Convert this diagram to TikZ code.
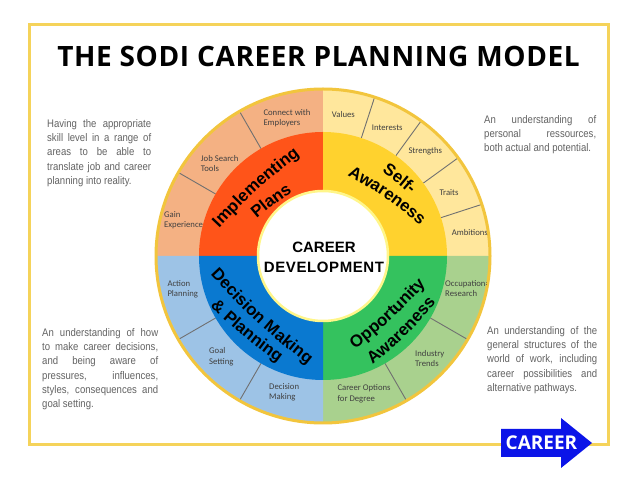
\documentclass[tikz,border=0pt]{standalone}
\usepackage{fontspec}
\setmainfont{Liberation Sans}
\newfontfamily\titlefont{Open Sans}
\newfontfamily\labfont{Carlito}
\newfontfamily\txtfont[FakeStretch=0.87]{Liberation Sans}
\usetikzlibrary{calc,decorations.text}
\definecolor{frameyellow}{HTML}{F5D35A}
\definecolor{ringborder}{HTML}{F2C53D}
\definecolor{peach}{HTML}{F4B183}
\definecolor{redorange}{HTML}{FF5419}
\definecolor{sunyellow}{HTML}{FFD22E}
\definecolor{paleyellow}{HTML}{FFE79C}
\definecolor{leafgreen}{HTML}{34C25E}
\definecolor{palegreen}{HTML}{A9D18E}
\definecolor{seablue}{HTML}{0A79D0}
\definecolor{paleblue}{HTML}{9DC3E6}
\definecolor{divgray}{HTML}{707070}
\definecolor{labgray}{HTML}{404040}
\definecolor{blurbgray}{HTML}{636363}
\definecolor{arrowblue}{HTML}{0B14E8}
\definecolor{innerborder}{HTML}{FFF68A}
\newcommand\wheelfont{\bfseries\fontsize{16.8}{20}\selectfont}
\tikzset{
  frame/.style={draw=frameyellow, line width=3pt},
  divider/.style={draw=divgray, line width=0.9pt},
  ringlabel/.style={font=\labfont\fontsize{8.7}{10.3}\selectfont, text=labgray, align=left, anchor=west, inner sep=0pt},
  blurb/.style={font=\txtfont\fontsize{11}{14.2}\selectfont, text=blurbgray, anchor=base west, inner sep=0pt},
  centre/.style={font=\bfseries\fontsize{15}{18}\selectfont, anchor=base, inner sep=0pt},
  wheeltext/.style={decorate, decoration={text along path, text align=center, text={|\wheelfont|#1}}},
}
\begin{document}
\begin{tikzpicture}[x=1pt,y=1pt]
\useasboundingbox (0,0) rectangle (638,479);
\fill[white] (0,0) rectangle (638,479);
\draw[frame] (29,34) rectangle (608,454);
\coordinate (C) at (323,223);
% outer ring
\fill[peach] (C) -- ++(90:167) arc[start angle=90,end angle=180,radius=167pt] -- cycle;
\fill[paleyellow] (C) -- ++(0:167) arc[start angle=0,end angle=90,radius=167pt] -- cycle;
\fill[palegreen] (C) -- ++(-90:167) arc[start angle=-90,end angle=0,radius=167pt] -- cycle;
\fill[paleblue] (C) -- ++(180:167) arc[start angle=180,end angle=270,radius=167pt] -- cycle;
\foreach \a in {120,150,72,54,36,18,-30,-60,210,240}
  \draw[divider] ($(C)+(\a:124)$) -- ($(C)+(\a:167)$);
% inner ring
\fill[redorange] (C) -- ++(90:124) arc[start angle=90,end angle=180,radius=124pt] -- cycle;
\fill[sunyellow] (C) -- ++(0:124) arc[start angle=0,end angle=90,radius=124pt] -- cycle;
\fill[leafgreen] (C) -- ++(-90:124) arc[start angle=-90,end angle=0,radius=124pt] -- cycle;
\fill[seablue] (C) -- ++(180:124) arc[start angle=180,end angle=270,radius=124pt] -- cycle;
\draw[ringborder, line width=3pt] (C) circle[radius=167pt];
\filldraw[fill=white, draw=innerborder, line width=2.5pt] (C) circle[radius=65pt];
% ring labels
\begin{scope}
\clip (C) circle[radius=165.5pt];
\node[ringlabel] (conn) at (263.3,360.8) {Connect with\\Employers};
\node[ringlabel] (job) at (200.7,315.7) {Job Search\\Tools};
\node[ringlabel] (gain) at (164,259) {Gain\\Experience};
\node[ringlabel] (val) at (331.7,364) {Values};
\node[ringlabel] (int) at (371.7,351.7) {Interests};
\node[ringlabel] (str) at (408.3,327.3) {Strengths};
\node[ringlabel] (tra) at (439.3,286.3) {Traits};
\node[ringlabel] (amb) at (451.7,246.3) {Ambitions};
\node[ringlabel] (occ) at (445,190.2) {Occupational\\Research};
\node[ringlabel] (ind) at (415,120.7) {Industry\\Trends};
\node[ringlabel] (cod) at (337.3,85.3) {Career Options\\for Degree};
\node[ringlabel] (act) at (167.3,189.7) {Action\\Planning};
\node[ringlabel] (goal) at (209,122.3) {Goal\\Setting};
\node[ringlabel] (dec) at (269,86.7) {Decision\\Making};
\end{scope}
% curved quadrant titles
\path[wheeltext={Implementing}] (205,235.8) .. controls (256.7,290.6) .. (316.4,336.4);
\path[wheeltext={Plans}] (243,248.9) .. controls (273.8,274.5) .. (307,296.9);
\path[wheeltext={Self-}] (368.2,316.9) .. controls (396.8,296.8) .. (423,273.5);
\path[wheeltext={Awareness}] (329.3,314) .. controls (386.1,281.9) .. (436.1,240);
\path[wheeltext={Decision Making}] (200.9,214.2) .. controls (255.6,155.6) .. (318.5,105.8);
\path[wheeltext={{\&} Planning}] (190.9,189.9) .. controls (242.4,142.3) .. (298.9,100.9);
\path[wheeltext={Opportunity}] (333.9,112.9) .. controls (393.1,159.4) .. (444.1,214.7);
\path[wheeltext={Awareness}] (352.7,97.8) .. controls (407,142.4) .. (452.9,195.6);
% centre
\node[centre] (cd1) at (324,226.5) {CAREER};
\node[centre] (cd2) at (324,206.5) {\addfontfeatures{LetterSpace=4}DEVELOPMENT};
% title
\node[font=\titlefont\bfseries\fontsize{28}{32}\selectfont, anchor=base, inner sep=0pt] (title) at (318.5,412) {\addfontfeatures{LetterSpace=2.2}THE SODI CAREER PLANNING MODEL};
% blurbs
\node[blurb] (tl) at (47,351.5) {\parbox[t]{104pt}{\makebox[104pt][s]{Having the appropriate}\\\makebox[104pt][s]{skill level in a range of}\\\makebox[104pt][s]{areas to be able to}\\\makebox[104pt][s]{translate job and career}\\planning into reality.}};
\node[blurb] (tr) at (484,355.5) {\parbox[t]{112pt}{\makebox[112pt][s]{An understanding of}\\\makebox[112pt][s]{personal ressources,}\\both actual and potential.}};
\node[blurb] (bl) at (42,142.5) {\parbox[t]{116pt}{\makebox[116pt][s]{An understanding of how}\\\makebox[116pt][s]{to make career decisions,}\\\makebox[116pt][s]{and being aware of}\\\makebox[116pt][s]{pressures, influences,}\\\makebox[116pt][s]{styles, consequences and}\\goal setting.}};
\node[blurb] (br) at (487,144.5) {\parbox[t]{110pt}{\makebox[110pt][s]{An understanding of the}\\\makebox[110pt][s]{general structures of the}\\\makebox[110pt][s]{world of work, including}\\\makebox[110pt][s]{career possibilities and}\\alternative pathways.}};
% career arrow
\fill[arrowblue] (501,50) -- (561,50) -- (561,61) -- (592,36) -- (561,11) -- (561,22) -- (501,22) -- cycle;
\node[font=\titlefont\bfseries\fontsize{19}{22}\selectfont, text=white, anchor=base, inner sep=0pt] (careerbtn) at (541.5,29.5) {CAREER};
\end{tikzpicture}
\end{document}
